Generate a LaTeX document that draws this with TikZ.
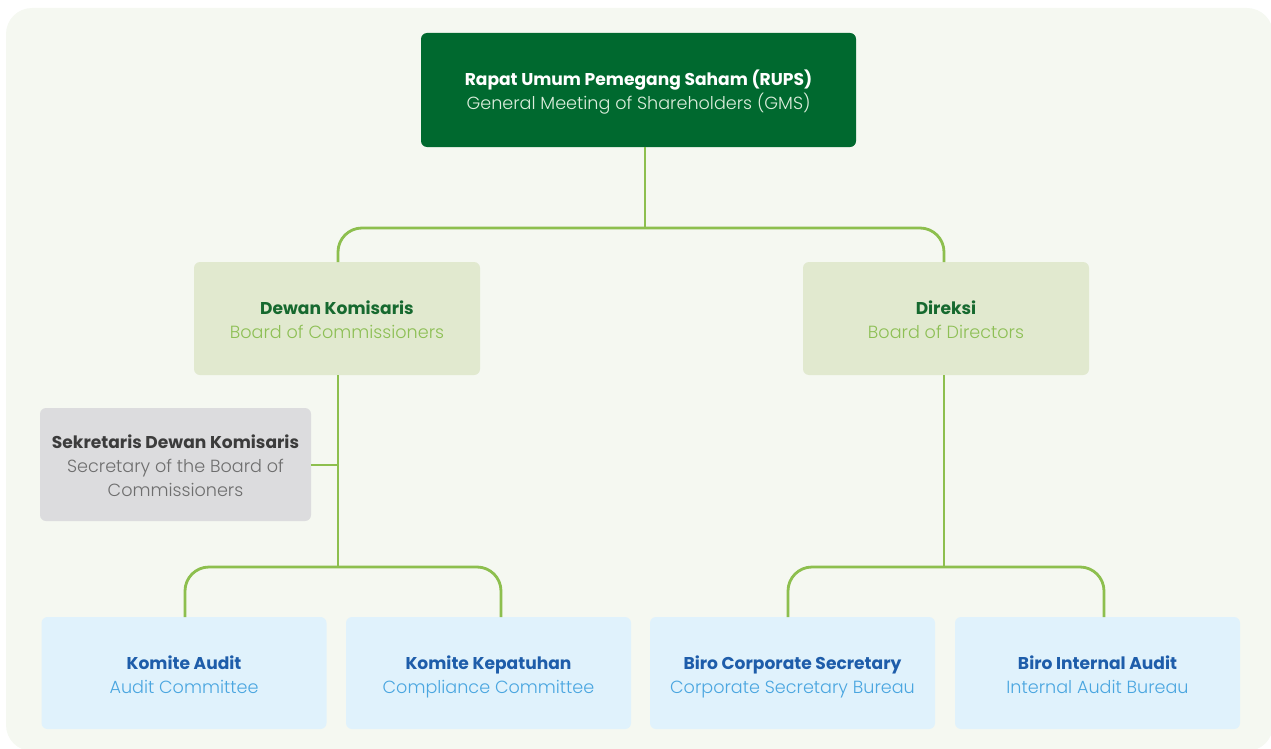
\documentclass[tikz,border=0pt]{standalone}
\usepackage{fontspec}
\setmainfont{Poppins}
\newfontfamily\lightfont{Poppins Light}
\usepackage{tikz}

\definecolor{pagebg}{HTML}{F5F8F1}
\definecolor{gmsgreen}{HTML}{00692F}
\definecolor{gmssub}{HTML}{DDEEDD}
\definecolor{boardfill}{HTML}{E1E9CF}
\definecolor{boardtitle}{HTML}{16692F}
\definecolor{boardsub}{HTML}{8DBF55}
\definecolor{secfill}{HTML}{DCDCDE}
\definecolor{sectitle}{HTML}{3C3C3C}
\definecolor{secsub}{HTML}{6E6E6E}
\definecolor{unitfill}{HTML}{E0F2FC}
\definecolor{unittitle}{HTML}{1E5DAA}
\definecolor{unitsub}{HTML}{4AA6E0}
\definecolor{linkgreen}{HTML}{8DBF4E}

% bold title line and light English line of a box
\newcommand\boxfont{\fontsize{17.1}{24}\selectfont\lineskiplimit=-100pt\relax}
\newcommand\rowstrut{\rule[-7pt]{0pt}{30pt}}
\newcommand\idline[2]{{\bfseries\color{#1}#2\rowstrut}}
\newcommand\engline[2]{{\lightfont\fontsize{17.6}{24}\selectfont\color{#1}#2\rowstrut}}

\tikzset{
  box/.style={rounded corners=6pt, align=center, inner sep=0pt, font=\boxfont},
  gmsbox/.style={box, fill=gmsgreen, text=white,
    minimum width=435pt, minimum height=114pt},
  boardbox/.style={box, fill=boardfill, minimum width=286pt, minimum height=113pt},
  secbox/.style={box, fill=secfill, minimum width=271pt, minimum height=113pt},
  unitbox/.style={box, fill=unitfill, minimum width=285pt, minimum height=112pt},
  link/.style={draw=linkgreen, line width=2.8pt, rounded corners=24pt}
}

\begin{document}
\begin{tikzpicture}[x=1pt,y=-1pt]
    \useasboundingbox (0,0) rectangle (1271,749);
    \fill[pagebg, rounded corners=26pt] (6,8) rectangle (1273,751);

    % top level
    \node[gmsbox] (gms) at (638.5,90) {\idline{white}{Rapat Umum Pemegang Saham (RUPS)}\\
        \engline{gmssub}{General Meeting of Shareholders (GMS)}};

    % boards
    \node[boardbox] (dk) at (337,318.5) {\idline{boardtitle}{Dewan Komisaris}\\
        \engline{boardsub}{Board of Commissioners}};
    \node[boardbox] (dir) at (946,318.5) {\idline{boardtitle}{Direksi}\\
        \engline{boardsub}{Board of Directors}};
    \node[secbox] (sek) at (175.5,464.5) {\idline{sectitle}{Sekretaris Dewan Komisaris}\\
        \engline{secsub}{Secretary of the Board of}\\
        \engline{secsub}{Commissioners}};

    % committees and bureaus
    \node[unitbox] (ka) at (184,673) {\idline{unittitle}{Komite Audit}\\
        \engline{unitsub}{Audit Committee}};
    \node[unitbox] (kk) at (488.5,673) {\idline{unittitle}{Komite Kepatuhan}\\
        \engline{unitsub}{Compliance Committee}};
    \node[unitbox] (bcs) at (792.5,673) {\idline{unittitle}{Biro Corporate Secretary}\\
        \engline{unitsub}{Corporate Secretary Bureau}};
    \node[unitbox] (bia) at (1097.5,673) {\idline{unittitle}{Biro Internal Audit}\\
        \engline{unitsub}{Internal Audit Bureau}};

    % forks
    \coordinate (topfork) at (645,228);
    \coordinate (dkfork) at (338,567);
    \coordinate (dirfork) at (944,567);
    \coordinate (dkline) at (338,465);

    \draw[link] (topfork |- gms.south) -- (topfork);
    \draw[link] (338,262) |- (topfork) -| (944,262);

    \draw[link] (dkfork |- dk.south) -- (dkfork);
    \draw[link] (sek.east |- dkline) -- (dkline);
    \draw[link] (185,617) |- (dkfork) -| (501,617);

    \draw[link] (dirfork |- dir.south) -- (dirfork);
    \draw[link] (788,617) |- (dirfork) -| (1104,617);
\end{tikzpicture}
\end{document}
